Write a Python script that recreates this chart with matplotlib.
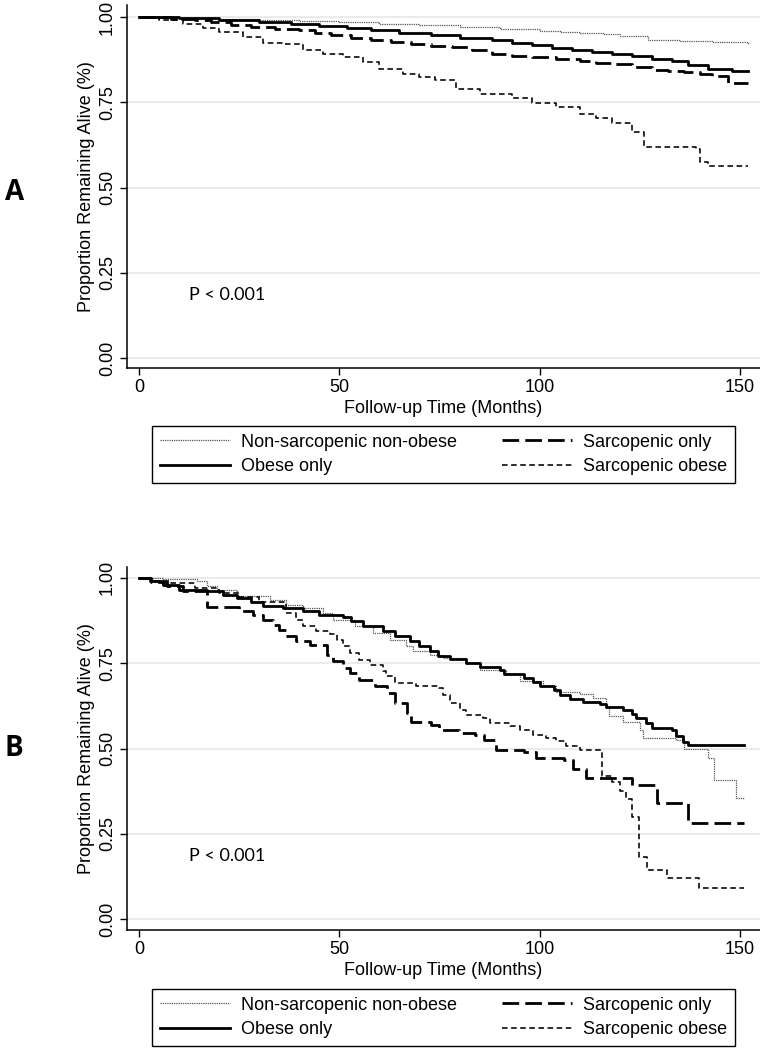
import matplotlib
matplotlib.use("Agg")
import matplotlib.pyplot as plt
from matplotlib.lines import Line2D

# group labels / styles order
groups = ["Non-sarcopenic non-obese", "Obese only", "Sarcopenic only", "Sarcopenic obese"]

# ---- Panel A ----
a_nsno_t = [0, 10, 20, 30, 40, 50, 60, 70, 80, 90, 100, 105, 110, 116, 120, 127, 135, 143, 152]
a_nsno_s = [1.0, 0.998, 0.995, 0.992, 0.988, 0.984, 0.980, 0.976, 0.971, 0.966, 0.960,
            0.957, 0.954, 0.950, 0.944, 0.934, 0.930, 0.926, 0.922]

a_ob_t = [0, 10, 20, 30, 38, 45, 52, 58, 65, 73, 80, 88, 93, 98, 103, 108, 113, 118, 123,
          128, 133, 137, 142, 148, 152]
a_ob_s = [1.0, 0.996, 0.991, 0.985, 0.980, 0.973, 0.967, 0.961, 0.954, 0.946, 0.939, 0.932,
          0.924, 0.917, 0.910, 0.904, 0.898, 0.892, 0.885, 0.878, 0.871, 0.858, 0.848, 0.843, 0.842]

a_sa_t = [0, 8, 14, 18, 23, 28, 34, 40, 44, 48, 53, 58, 63, 68, 73, 78, 83, 88, 93, 98, 104,
          110, 114, 118, 123, 128, 132, 136, 140, 143, 147, 152]
a_sa_s = [1.0, 0.995, 0.990, 0.985, 0.978, 0.971, 0.966, 0.961, 0.953, 0.946, 0.939, 0.932,
          0.926, 0.920, 0.916, 0.912, 0.902, 0.892, 0.887, 0.883, 0.877, 0.871, 0.866, 0.861,
          0.853, 0.846, 0.842, 0.839, 0.834, 0.826, 0.805, 0.805]

a_so_t = [0, 5, 11, 16, 20, 26, 31, 36, 41, 46, 51, 56, 60, 66, 70, 74, 79, 85, 93, 98, 104,
          110, 114, 118, 123, 126, 139, 140, 142, 152]
a_so_s = [1.0, 0.990, 0.980, 0.968, 0.956, 0.941, 0.924, 0.922, 0.904, 0.892, 0.883, 0.868,
          0.848, 0.834, 0.825, 0.814, 0.790, 0.775, 0.762, 0.748, 0.735, 0.717, 0.705, 0.689,
          0.664, 0.620, 0.612, 0.575, 0.563, 0.563]

# ---- Panel B ----
b_nsno_t = [0, 6, 14.4, 17, 19.4, 24.4, 32.7, 36.8, 41, 46, 48.5, 54, 58.4, 62.6, 66.7, 68.4,
            72.6, 75.9, 81.7, 85, 91.7, 95, 100.8, 104, 110, 113.3, 116.6, 117.4, 120.8, 125,
            125.8, 134, 136, 142, 143.6, 149, 151]
b_nsno_s = [1.0, 0.997, 0.990, 0.976, 0.966, 0.946, 0.936, 0.922, 0.912, 0.897, 0.878, 0.858,
            0.839, 0.819, 0.800, 0.785, 0.775, 0.765, 0.751, 0.731, 0.717, 0.697, 0.682, 0.665,
            0.660, 0.647, 0.623, 0.594, 0.579, 0.554, 0.530, 0.525, 0.500, 0.471, 0.408, 0.354, 0.354]

b_ob_t = [0, 2.7, 6, 10, 17, 21, 24.5, 28, 31, 36, 41, 45, 51, 53, 56, 61, 64, 67.6, 70, 72.6,
          74.6, 77.6, 81.7, 85, 90, 91, 96, 98.3, 100, 103.7, 105, 107.5, 110.8, 115, 116.6,
          120.8, 123, 124, 126.6, 128, 133, 134, 135.7, 137, 151]
b_ob_s = [1.0, 0.990, 0.978, 0.966, 0.961, 0.951, 0.941, 0.929, 0.919, 0.912, 0.902, 0.892,
          0.886, 0.873, 0.858, 0.844, 0.829, 0.814, 0.800, 0.785, 0.770, 0.762, 0.751, 0.739,
          0.731, 0.717, 0.707, 0.694, 0.682, 0.671, 0.658, 0.645, 0.635, 0.629, 0.622, 0.613,
          0.600, 0.589, 0.575, 0.560, 0.555, 0.538, 0.520, 0.511, 0.511]

b_sa_t = [0, 3, 7, 11, 17, 25, 28.5, 31, 33.5, 35, 36.8, 39.3, 42.6, 46.8, 48.5, 51, 52.6, 55,
          58.8, 61.9, 63.9, 66.9, 67.9, 72.9, 74.9, 79.9, 83.9, 86, 89, 96, 99, 106, 108.3,
          111.6, 123, 129.3, 137, 151]
b_sa_s = [1.0, 0.988, 0.975, 0.961, 0.916, 0.902, 0.892, 0.878, 0.863, 0.848, 0.829, 0.814,
          0.804, 0.775, 0.756, 0.737, 0.721, 0.702, 0.682, 0.662, 0.633, 0.603, 0.579, 0.569,
          0.554, 0.545, 0.540, 0.525, 0.496, 0.491, 0.471, 0.467, 0.440, 0.414, 0.393, 0.341,
          0.281, 0.281]

b_so_t = [0, 3, 8, 14, 20, 25, 30, 36.8, 39.3, 41, 44.3, 47.6, 49.3, 51, 52.6, 55, 57.6, 60.9,
          61.7, 64, 69.2, 75, 75.9, 77.6, 80, 81.7, 85.9, 87.5, 92.5, 95, 98.3, 101.7, 104,
          106.7, 110, 115.6, 118, 120, 121.6, 123, 124.7, 126.8, 131.8, 139.8, 151]
b_so_s = [1.0, 0.992, 0.984, 0.970, 0.955, 0.945, 0.930, 0.897, 0.878, 0.858, 0.844, 0.837,
          0.819, 0.800, 0.780, 0.760, 0.746, 0.726, 0.712, 0.692, 0.682, 0.677, 0.658, 0.633,
          0.614, 0.599, 0.589, 0.575, 0.565, 0.555, 0.541, 0.531, 0.521, 0.506, 0.497, 0.418,
          0.403, 0.374, 0.351, 0.300, 0.183, 0.144, 0.119, 0.090, 0.090]

yticks = [0, 0.25, 0.5, 0.75, 1.0]
xticks = [0, 50, 100, 150]

plt.rcParams['font.family'] = ['Liberation Sans', 'DejaVu Sans']

styles = [
    dict(color='#555555', lw=0.9, dashes=(1, 0.8)),
    dict(color='black', lw=2.0, linestyle='-'),
    dict(color='black', lw=2.0, dashes=(6, 2.2)),
    dict(color='black', lw=1.15, dashes=(3.5, 2.2)),
]

fig = plt.figure(figsize=(7.6, 10.5), dpi=100)


def panel(rect, ylim, curves, letter, letter_y, leg_top):
    ax = fig.add_axes(rect)
    for (t, s), st in zip(curves, styles):
        ax.step(t, s, where='post', **st)
    ax.set_xlim(-3, 155)
    ax.set_ylim(*ylim)
    ax.set_yticks(yticks)
    ax.set_yticklabels(['%.2f' % v for v in yticks])
    ax.set_xticks(xticks)
    ax.tick_params(axis='y', labelrotation=90, length=5, width=1, pad=3, labelsize=13)
    ax.tick_params(axis='x', length=5, width=1, pad=3, labelsize=13)
    for lab in ax.get_yticklabels():
        lab.set_va('center')
    ax.grid(axis='y', color='#e6e6e6', lw=1.1)
    ax.set_axisbelow(True)
    for sp in ['top', 'right']:
        ax.spines[sp].set_visible(False)
    for sp in ['left', 'bottom']:
        ax.spines[sp].set_linewidth(1.1)
    ax.set_ylabel('Proportion Remaining Alive (%)', fontsize=13, labelpad=3)
    ax.set_xlabel('Follow-up Time (Months)', fontsize=13, labelpad=3)
    ax.text(12.5, 0.185, 'P < 0.001', fontsize=13, family='Lato', va='center')
    fig.text(0.006, letter_y, letter, fontsize=20, weight='bold', family='Open Sans', va='center')
    handles = [Line2D([], [], **st) for st in styles]
    ax.legend(handles, groups, loc='upper left', ncol=2, mode='expand',
              bbox_to_anchor=(0.2, leg_top, 0.767, 0.0), bbox_transform=fig.transFigure,
              borderaxespad=0, fancybox=False, edgecolor='black', framealpha=1,
              fontsize=13, handlelength=3.9, handletextpad=0.6, labelspacing=0.42,
              borderpad=0.42)
    ax.get_legend().get_frame().set_linewidth(1.0)
    return ax


curves_a = [(a_nsno_t, a_nsno_s), (a_ob_t, a_ob_s), (a_sa_t, a_sa_s), (a_so_t, a_so_s)]
curves_b = [(b_nsno_t, b_nsno_s), (b_ob_t, b_ob_s), (b_sa_t, b_sa_s), (b_so_t, b_so_s)]

panel([127 / 760, 1 - 368 / 1050, 633 / 760, 363 / 1050], (-0.0293, 1.0352), curves_a,
      'A', 1 - 192 / 1050, 1 - 426 / 1050)
panel([127 / 760, 1 - 930 / 1050, 633 / 760, 363 / 1050], (-0.032, 1.032), curves_b,
      'B', 1 - 748 / 1050, 1 - 989 / 1050)

fig.savefig('out.png', dpi=100)
